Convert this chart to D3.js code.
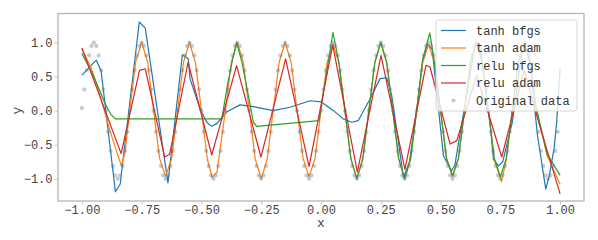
<!DOCTYPE html>
<html>
<head>
<meta charset="utf-8">
<script src="https://cdn.jsdelivr.net/npm/d3@7"></script>
<style>
  body { margin: 0; background: #fff; }
  text { font-family: "Liberation Mono", "DejaVu Sans Mono", monospace; }
</style>
</head>
<body>
<svg id="chart" width="598" height="240"></svg>
<script>
// series, [x, y] vertices
const tanhBfgs = [[-1.0,0.52],[-0.94,0.74],[-0.92,0.59],[-0.86,-1.19],[-0.84,-1.08],[-0.76,1.30],[-0.735,1.21],
  [-0.64,-1.06],[-0.58,0.82],[-0.555,0.76],[-0.548,0.47],[-0.506,0.03],[-0.478,-0.17],[-0.457,-0.23],[-0.436,-0.19],
  [-0.395,-0.02],[-0.339,0.085],[-0.283,0.06],[-0.20,0.0],[-0.13,0.05],[-0.046,0.145],[0.0,0.13],[0.052,0.0],
  [0.093,-0.12],[0.128,-0.17],[0.156,-0.145],[0.205,0.17],[0.247,0.47],[0.275,0.48],[0.296,0.22],[0.345,-0.98],
  [0.37,-0.75],[0.40,0.0],[0.425,0.72],[0.445,0.98],[0.465,0.90],[0.512,-0.66],[0.545,-0.88],[0.56,-0.80],[0.60,0.05],
  [0.645,0.97],[0.665,0.95],[0.707,-0.17],[0.721,-0.71],[0.742,-0.81],[0.76,-0.75],[0.80,-0.17],[0.845,0.97],
  [0.87,0.85],[0.905,-0.35],[0.94,-1.15],[0.955,-0.95],[0.975,-0.55],[0.985,-0.2],[1.0,0.61]]

const tanhAdam = [[-1.0,0.90],[-0.96,0.62],[-0.92,0.17],[-0.875,-0.38],[-0.835,-0.81],[-0.82,-0.62],[-0.80,0.0],
  [-0.775,0.72],[-0.75,1.0],[-0.725,0.71],[-0.70,0.0],[-0.675,-0.70],[-0.65,-0.96],[-0.625,-0.71],[-0.60,0.0],
  [-0.575,0.71],[-0.55,1.0],[-0.525,0.70],[-0.50,0.0],[-0.475,-0.72],[-0.455,-0.98],[-0.435,-0.90],[-0.40,0.0],
  [-0.375,0.71],[-0.35,1.0],[-0.325,0.71],[-0.30,0.0],[-0.275,-0.71],[-0.25,-1.0],[-0.225,-0.71],[-0.20,0.0],
  [-0.175,0.71],[-0.15,1.0],[-0.125,0.71],[-0.10,0.0],[-0.075,-0.70],[-0.05,-0.97],[-0.025,-0.70],[0.0,0.0],
  [0.025,0.70],[0.05,0.98],[0.075,0.70],[0.10,0.0],[0.125,-0.71],[0.15,-1.0],[0.175,-0.71],[0.20,0.0],
  [0.225,0.71],[0.25,1.0],[0.275,0.71],[0.30,0.0],[0.325,-0.71],[0.35,-1.0],[0.375,-0.71],[0.40,0.0],
  [0.425,0.70],[0.45,0.97],[0.475,0.70],[0.50,0.0],[0.525,-0.70],[0.55,-0.97],[0.575,-0.70],[0.60,0.0],
  [0.625,0.71],[0.65,1.0],[0.675,0.71],[0.70,0.0],[0.725,-0.72],[0.755,-1.04],[0.775,-0.72],[0.80,0.0],
  [0.825,0.70],[0.85,0.98],[0.875,0.70],[0.90,0.02],[0.945,-0.65],[1.0,-1.08]]

const reluBfgs = [[-1.0,0.84],[-0.95,0.50],[-0.905,0.12],[-0.88,-0.05],[-0.86,-0.12],[-0.415,-0.12],[-0.39,0.40],
  [-0.37,0.75],[-0.353,1.0],[-0.33,0.70],[-0.30,0.15],[-0.283,-0.17],[-0.269,-0.23],[-0.008,-0.145],[0.05,1.15],
  [0.075,0.70],[0.10,0.0],[0.125,-0.70],[0.15,-1.0],[0.175,-0.70],[0.20,0.0],[0.225,0.70],[0.25,1.0],[0.275,0.70],
  [0.30,0.0],[0.325,-0.70],[0.35,-1.0],[0.375,-0.70],[0.40,0.0],[0.425,0.75],[0.455,1.14],[0.475,0.70],[0.50,0.0],
  [0.525,-0.70],[0.55,-0.95],[0.575,-0.70],[0.60,0.0],[0.625,0.70],[0.65,1.0],[0.675,0.70],[0.70,0.0],[0.725,-0.70],
  [0.75,-0.97],[0.775,-0.70],[0.80,0.0],[0.825,0.70],[0.85,0.98],[0.875,0.70],[0.90,0.05],[0.945,-0.63],[1.0,-0.95]]

const reluAdam = [[-1.0,0.92],[-0.836,-0.63],[-0.759,0.59],[-0.735,0.615],[-0.654,-0.68],[-0.633,-0.64],
  [-0.556,0.71],[-0.457,-0.65],[-0.353,0.66],[-0.251,-0.68],[-0.148,0.76],[-0.05,-0.82],[0.049,0.96],
  [0.152,-0.90],[0.251,0.81],[0.351,-0.86],[0.439,0.665],[0.456,0.64],[0.54,-0.49],[0.568,-0.44],[0.651,0.52],
  [0.756,-0.68],[0.85,0.60],[0.902,-0.07],[1.0,-1.22]]

const origX = [-1.00,-0.99,-0.98,-0.97,-0.96,-0.95,-0.94,-0.93,-0.92,-0.91,-0.90,-0.89,-0.88,-0.87,-0.86,-0.85,-0.84,-0.83,-0.82,-0.81,
  -0.80,-0.79,-0.78,-0.77,-0.76,-0.75,-0.74,-0.73,-0.72,-0.71,-0.70,-0.69,-0.68,-0.67,-0.66,-0.65,-0.64,-0.63,-0.62,-0.61,
  -0.60,-0.59,-0.58,-0.57,-0.56,-0.55,-0.54,-0.53,-0.52,-0.51,-0.50,-0.49,-0.48,-0.47,-0.46,-0.45,-0.44,-0.43,-0.42,-0.41,
  -0.40,-0.39,-0.38,-0.37,-0.36,-0.35,-0.34,-0.33,-0.32,-0.31,-0.30,-0.29,-0.28,-0.27,-0.26,-0.25,-0.24,-0.23,-0.22,-0.21,
  -0.20,-0.19,-0.18,-0.17,-0.16,-0.15,-0.14,-0.13,-0.12,-0.11,-0.10,-0.09,-0.08,-0.07,-0.06,-0.05,-0.04,-0.03,-0.02,-0.01,
  0.00,0.01,0.02,0.03,0.04,0.05,0.06,0.07,0.08,0.09,0.10,0.11,0.12,0.13,0.14,0.15,0.16,0.17,0.18,0.19,
  0.20,0.21,0.22,0.23,0.24,0.25,0.26,0.27,0.28,0.29,0.30,0.31,0.32,0.33,0.34,0.35,0.36,0.37,0.38,0.39,
  0.40,0.41,0.42,0.43,0.44,0.45,0.46,0.47,0.48,0.49,0.50,0.51,0.52,0.53,0.54,0.55,0.56,0.57,0.58,0.59,
  0.60,0.61,0.62,0.63,0.64,0.65,0.66,0.67,0.68,0.69,0.70,0.71,0.72,0.73,0.74,0.75,0.76,0.77,0.78,0.79,
  0.80,0.81,0.82,0.83,0.84,0.85,0.86,0.87,0.88,0.89,0.90,0.91,0.92,0.93,0.94,0.95,0.96,0.97,0.98,0.99]

const origY = [0.04,0.31,0.59,0.81,0.95,1.0,0.95,0.81,0.59,0.31,0.0,-0.31,-0.59,-0.81,-0.95,-1.0,-0.95,-0.81,-0.59,-0.31,
  0.0,0.31,0.59,0.81,0.95,1.0,0.95,0.81,0.59,0.31,0.0,-0.31,-0.59,-0.81,-0.95,-1.0,-0.95,-0.81,-0.59,-0.31,
  0.0,0.31,0.59,0.81,0.95,1.0,0.95,0.81,0.59,0.31,0.0,-0.31,-0.59,-0.81,-0.95,-1.0,-0.95,-0.81,-0.59,-0.31,
  0.0,0.31,0.59,0.81,0.95,1.0,0.95,0.81,0.59,0.31,0.0,-0.31,-0.59,-0.81,-0.95,-1.0,-0.95,-0.81,-0.59,-0.31,
  0.0,0.31,0.59,0.81,0.95,1.0,0.95,0.81,0.59,0.31,0.0,-0.31,-0.59,-0.81,-0.95,-1.0,-0.95,-0.81,-0.59,-0.31,
  0.0,0.31,0.59,0.81,0.95,1.0,0.95,0.81,0.59,0.31,0.0,-0.31,-0.59,-0.81,-0.95,-1.0,-0.95,-0.81,-0.59,-0.31,
  0.0,0.31,0.59,0.81,0.95,1.0,0.95,0.81,0.59,0.31,0.0,-0.31,-0.59,-0.81,-0.95,-1.0,-0.95,-0.81,-0.59,-0.31,
  0.0,0.31,0.59,0.81,0.95,1.0,0.95,0.81,0.59,0.31,0.0,-0.31,-0.59,-0.81,-0.95,-1.0,-0.95,-0.81,-0.59,-0.31,
  0.0,0.31,0.59,0.81,0.95,1.0,0.95,0.81,0.59,0.31,0.0,-0.31,-0.59,-0.81,-0.95,-1.0,-0.95,-0.81,-0.59,-0.31,
  0.0,0.31,0.59,0.81,0.95,1.0,0.95,0.81,0.59,0.31,0.0,-0.31,-0.59,-0.81,-0.95,-1.0,-0.95,-0.81,-0.59,-0.31]

const seriesNames = ["tanh bfgs", "tanh adam", "relu bfgs", "relu adam"]
const seriesColors = ["#1f77b4", "#ff7f0e", "#2ca02c", "#d62728"]
const xTicks = [-1.0, -0.75, -0.5, -0.25, 0.0, 0.25, 0.5, 0.75, 1.0]
const yTicks = [-1.0, -0.5, 0.0, 0.5, 1.0]

const svg = d3.select("#chart")
const plot = {left: 58, right: 584, top: 13.5, bottom: 201}

const x = d3.scaleLinear().domain([-1.1, 1.1]).range([plot.left, plot.right])
const y = d3.scaleLinear().domain([-1.325, 1.425]).range([plot.bottom, plot.top])

const minus = s => s.replace("-", "\u2212")

// frame
svg.append("rect")
  .attr("x", plot.left).attr("y", plot.top)
  .attr("width", plot.right - plot.left).attr("height", plot.bottom - plot.top)
  .attr("fill", "none").attr("stroke", "#b5b5b5").attr("stroke-width", 1.3)

const xAxis = svg.append("g")
  .attr("transform", `translate(0,${plot.bottom})`)
  .call(d3.axisBottom(x).tickValues(xTicks).tickSize(3.5).tickPadding(0.5)
    .tickFormat(d => minus(d3.format(".2f")(d))))
const yAxis = svg.append("g")
  .attr("transform", `translate(${plot.left},0)`)
  .call(d3.axisLeft(y).tickValues(yTicks).tickSize(3.5).tickPadding(2)
    .tickFormat(d => minus(d3.format(".1f")(d))))

for (const ax of [xAxis, yAxis]) {
  ax.select(".domain").remove()
  ax.selectAll(".tick line").attr("stroke", "#c4c4c4")
  ax.selectAll(".tick text")
    .attr("fill", "#444")
    .style("font-family", "'Liberation Mono', monospace")
    .style("font-size", "12px")
}

svg.append("text").attr("x", x(0)).attr("y", 227)
  .attr("text-anchor", "middle").attr("fill", "#444").style("font-size", "13px").text("x")
svg.append("text").attr("transform", `translate(21,${y(0)}) rotate(-90)`)
  .attr("text-anchor", "middle").attr("fill", "#444").style("font-size", "13px").text("y")

const line = d3.line().x(d => x(d[0])).y(d => y(d[1]))
const allSeries = [tanhBfgs, tanhAdam, reluBfgs, reluAdam]

svg.append("g").selectAll("path")
  .data(allSeries)
  .join("path")
  .attr("d", line)
  .attr("fill", "none")
  .attr("stroke", (d, i) => seriesColors[i])
  .attr("stroke-width", 1.2)
  .attr("stroke-linejoin", "round")

svg.append("g").selectAll("circle")
  .data(origX.map((v, i) => [v, origY[i]]))
  .join("circle")
  .attr("cx", d => x(d[0]))
  .attr("cy", d => y(d[1]))
  .attr("r", 2.1)
  .attr("fill", "#5d7793")
  .attr("fill-opacity", 0.38)

// legend
const legend = svg.append("g").attr("transform", "translate(436,20)")
legend.append("rect")
  .attr("width", 141).attr("height", 91).attr("rx", 3)
  .attr("fill", "#fff").attr("fill-opacity", 0.8)
  .attr("stroke", "#d6d6d6")

const rowY = i => 10.5 + i * 17.5
seriesNames.forEach((name, i) => {
  legend.append("line")
    .attr("x1", 5).attr("x2", 30).attr("y1", rowY(i)).attr("y2", rowY(i))
    .attr("stroke", seriesColors[i]).attr("stroke-width", 1.2)
  legend.append("text").attr("x", 40).attr("y", rowY(i)).attr("dy", "0.35em")
    .attr("fill", "#333").style("font-size", "12px").text(name)
})
legend.append("circle").attr("cx", 17.5).attr("cy", rowY(4)).attr("r", 2.1)
  .attr("fill", "#5d7793").attr("fill-opacity", 0.38)
legend.append("text").attr("x", 40).attr("y", rowY(4)).attr("dy", "0.35em")
  .attr("fill", "#333").style("font-size", "12px").text("Original data")
</script>
</body>
</html>
